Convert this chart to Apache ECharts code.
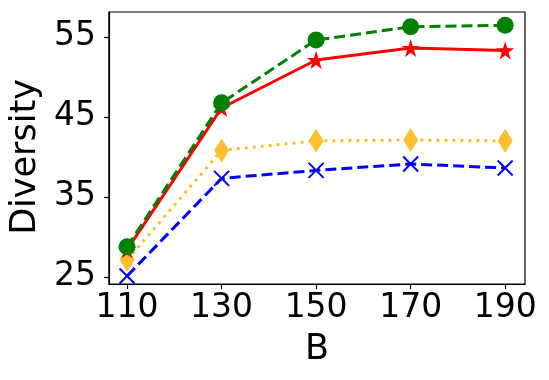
<!DOCTYPE html>
<html>
<head>
<meta charset="utf-8">
<script src="https://cdn.jsdelivr.net/npm/echarts@6/dist/echarts.min.js"></script>
<style>
  html, body { margin: 0; padding: 0; background: #fff; }
  #chart { width: 549px; height: 380px; }
</style>
</head>
<body>
<div id="chart"></div>
<script>
var xValues = [110, 130, 150, 170, 190];
var xTicks = [110, 130, 150, 170, 190];
var yTicks = [25, 35, 45, 55];

var blueVals = [25.1, 37.3, 38.3, 39.1, 38.6];
var orangeVals = [27.1, 40.8, 42.0, 42.1, 42.0];
var redVals = [28.4, 46.1, 52.1, 53.6, 53.3];
var greenVals = [28.75, 46.75, 54.6, 56.25, 56.45];

var starPath = 'path://M100,0 L122.45,69.1 L195.1,69.1 L136.3,111.8 L158.8,180.9 L100,138.2 L41.2,180.9 L63.7,111.8 L4.9,69.1 L77.55,69.1 Z';
var xPath = 'path://M0,0 L10,10 M10,0 L0,10';

function pairs(vals) {
  return vals.map(function (v, i) { return [xValues[i], v]; });
}

var chart = echarts.init(document.getElementById('chart'));
var font = 'DejaVu Sans';

var option = {
  animation: false,
  grid: {
    left: 106, right: 24, top: 12, bottom: 96,
    show: true, borderColor: '#000', borderWidth: 1.2
  },
  xAxis: {
    type: 'value',
    min: 106.15,
    max: 194.2,
    name: 'B',
    nameLocation: 'middle',
    nameGap: 48,
    nameTextStyle: { fontFamily: font, fontSize: 35, color: '#000' },
    axisLine: { show: true, lineStyle: { color: '#000', width: 1.2 } },
    axisTick: { show: true, length: 5, customValues: xTicks, lineStyle: { color: '#000', width: 1.2 } },
    axisLabel: { customValues: xTicks, fontFamily: font, fontSize: 33, color: '#000', margin: 8 },
    splitLine: { show: false }
  },
  yAxis: {
    type: 'value',
    min: 24.1,
    max: 58.1,
    name: 'Diversity',
    nameLocation: 'middle',
    nameGap: 57,
    nameTextStyle: { fontFamily: font, fontSize: 35, color: '#000', padding: [0, 18, 0, 0] },
    axisLine: { show: true, lineStyle: { color: '#000', width: 1.2 } },
    axisTick: { show: true, length: 5, customValues: yTicks, lineStyle: { color: '#000', width: 1.2 } },
    axisLabel: { customValues: yTicks, fontFamily: font, fontSize: 33, color: '#000', margin: 13 },
    splitLine: { show: false }
  },
  series: [
    {
      type: 'line',
      data: pairs(blueVals),
      symbol: xPath,
      symbolSize: 15,
      lineStyle: { color: '#0000ff', width: 3, type: [11, 5] },
      itemStyle: { color: 'rgba(0,0,0,0)', borderColor: '#0000ff', borderWidth: 2 },
      z: 2
    },
    {
      type: 'line',
      data: pairs(orangeVals),
      symbol: 'diamond',
      symbolSize: [15, 24],
      lineStyle: { color: '#fdbf2d', width: 3, type: [3, 5] },
      itemStyle: { color: '#fdbf2d', borderWidth: 0 },
      z: 3
    },
    {
      type: 'line',
      data: pairs(redVals),
      symbol: starPath,
      symbolSize: 18,
      lineStyle: { color: '#ff0000', width: 3 },
      itemStyle: { color: '#ff0000', borderWidth: 0 },
      z: 4
    },
    {
      type: 'line',
      data: pairs(greenVals),
      symbol: 'circle',
      symbolSize: 17,
      lineStyle: { color: '#008000', width: 3, type: [11, 5] },
      itemStyle: { color: '#008000', borderWidth: 0 },
      z: 5
    }
  ]
};

chart.setOption(option);

window.onresize = function () {
  chart.resize();
};
</script>
</body>
</html>
